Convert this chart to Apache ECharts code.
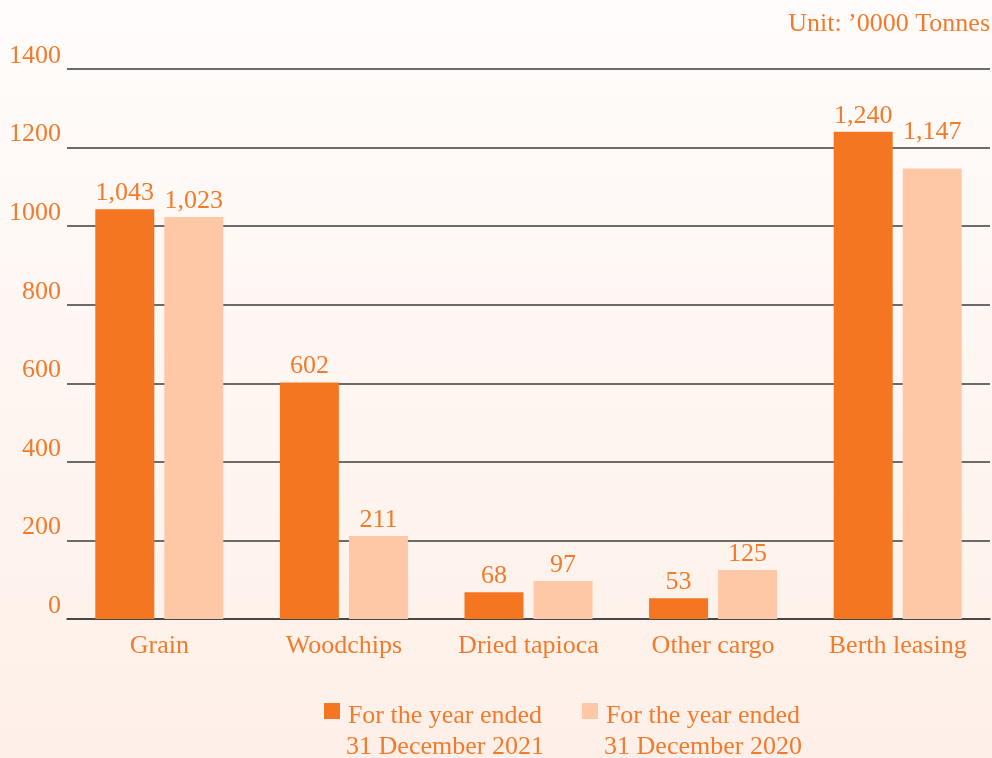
<!DOCTYPE html>
<html>
<head>
<meta charset="utf-8">
<style>
  html, body { margin: 0; padding: 0; }
  #chart { width: 992px; height: 758px; }
</style>
<script src="https://cdn.jsdelivr.net/npm/echarts@6/dist/echarts.min.js"></script>
</head>
<body>
<div id="chart"></div>
<script>
// chart data
var categories = ["Grain", "Woodchips", "Dried tapioca", "Other cargo", "Berth leasing"];
var seriesNames = ["For the year ended\n31 December 2021", "For the year ended\n31 December 2020"];
var values2021 = [1043, 602, 68, 53, 1240];
var values2020 = [1023, 211, 97, 125, 1147];
var unitText = "Unit: \u20190000 Tonnes";

var textColor = "#F47A2B";
var fontFamily = "'Liberation Serif', 'DejaVu Serif', serif";

function fmt(v) {
  return v.toLocaleString("en-US");
}

function barLabel() {
  return {
    show: true,
    position: "top",
    distance: 3,
    color: textColor,
    fontFamily: fontFamily,
    fontSize: 26,
    formatter: function (p) {
      return fmt(p.value);
    },
  };
}

var myChart = echarts.init(document.getElementById("chart"));

var options = {
  backgroundColor: new echarts.graphic.LinearGradient(0, 0, 0, 1, [
    { offset: 0, color: "#FFFCFB" },
    { offset: 1, color: "#FEF0E8" },
  ]),
  textStyle: { fontFamily: fontFamily },
  color: ["#F47621", "#FEC8A6"],
  title: {
    text: unitText,
    right: 2,
    top: 11,
    padding: 0,
    textStyle: {
      color: textColor,
      fontFamily: fontFamily,
      fontSize: 26,
      fontWeight: "normal",
    },
  },
  grid: {
    left: 67,
    right: 2,
    top: 69,
    bottom: 139,
  },
  legend: {
    left: 324,
    top: 703,
    padding: 0,
    itemGap: 37,
    itemWidth: 16,
    itemHeight: 58,
    icon: "path://M0,0H16V16H0Z M0,58",
    formatter: function (name) {
      var parts = name.split("\n");
      return "{a|" + parts[0] + "}\n{a|" + parts[1] + "}";
    },
    textStyle: {
      color: textColor,
      fontFamily: fontFamily,
      fontSize: 26,
      rich: {
        a: {
          color: textColor,
          fontFamily: fontFamily,
          fontSize: 26,
          lineHeight: 31,
          width: 200,
          align: "center",
        },
      },
    },
  },
  xAxis: [
    {
      type: "category",
      data: categories,
      axisTick: { show: false },
      axisLine: {
        show: true,
        lineStyle: { color: "#3d3d3d", width: 1.5 },
      },
      axisLabel: {
        color: textColor,
        fontFamily: fontFamily,
        fontSize: 26,
        margin: 14,
      },
    },
  ],
  yAxis: [
    {
      type: "value",
      min: 0,
      max: 1400,
      interval: 200,
      axisLine: { show: false },
      axisTick: { show: false },
      splitLine: {
        show: true,
        lineStyle: { color: "#3d3d3d", width: 1.5 },
      },
      axisLabel: {
        color: textColor,
        fontFamily: fontFamily,
        fontSize: 26,
        margin: 6,
        verticalAlign: "bottom",
        lineHeight: 26,
        formatter: function (v) {
          return String(v);
        },
      },
    },
  ],
  series: [
    {
      name: seriesNames[0],
      type: "bar",
      barWidth: 59,
      barGap: "17%",
      data: values2021,
      label: barLabel(),
    },
    {
      name: seriesNames[1],
      type: "bar",
      barWidth: 59,
      barGap: "17%",
      data: values2020.map(function (v, i) {
        // the 1,147 label sits higher in the original
        if (i === 4) {
          return { value: v, label: { offset: [0, -20] } };
        }
        return v;
      }),
      label: barLabel(),
    },
  ],
};

myChart.setOption(options);
</script>
</body>
</html>
